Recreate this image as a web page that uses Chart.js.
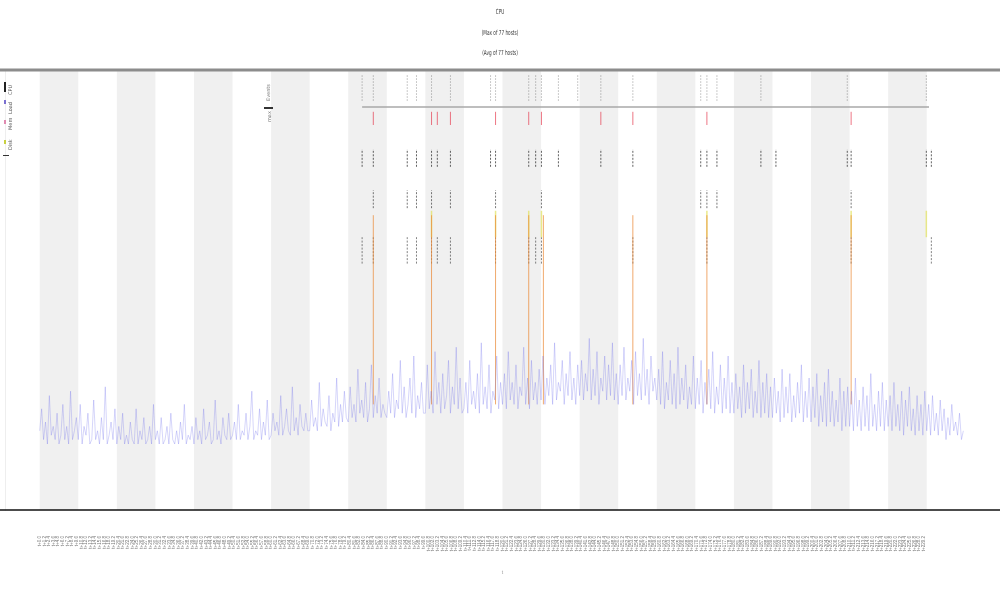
<!DOCTYPE html>
<html>
<head>
<meta charset="utf-8">
<script src="https://cdn.jsdelivr.net/npm/chart.js@4/dist/chart.umd.min.js"></script>
<style>
  body { margin: 0; background: #fff; font-family: "DejaVu Sans", sans-serif; }
  #wrap { position: relative; width: 1000px; height: 600px; }
  .t { position: absolute; color: #333; font-size: 7px; white-space: nowrap; transform: translateX(-50%) scaleX(0.6); }
  .lg { position: absolute; font-size: 5px; color: #555; white-space: nowrap; transform-origin: left top; transform: rotate(-90deg); }
  .sw { position: absolute; }
</style>
</head>
<body>
<div id="wrap">
  <canvas id="chart" width="1000" height="600"></canvas>
  <div class="t" style="left:500px;top:8px;">CPU</div>
  <div class="t" style="left:500px;top:29px;">(Max of 77 hosts)</div>
  <div class="t" style="left:500px;top:49px;">(Avg of 77 hosts)</div>

  <div class="sw" style="left:4px;top:82px;width:2px;height:10px;background:#222;"></div>
  <div class="lg" style="left:7px;top:95px;">CPU</div>
  <div class="sw" style="left:4px;top:100px;width:2px;height:4px;background:#7a6fd0;"></div>
  <div class="lg" style="left:7px;top:114px;">Load</div>
  <div class="sw" style="left:4px;top:120px;width:2px;height:4px;background:#e08ab0;"></div>
  <div class="lg" style="left:7px;top:130px;">Mem</div>
  <div class="sw" style="left:4px;top:140px;width:2px;height:4px;background:#c8d040;"></div>
  <div class="lg" style="left:7px;top:150px;">Disk</div>
  <div class="sw" style="left:3px;top:155px;width:6px;height:1px;background:#333;"></div>

  <div class="lg" style="left:265px;top:101px;color:#777;">Events</div>
  <div class="sw" style="left:264px;top:107px;width:9px;height:2px;background:#333;"></div>
  <div class="lg" style="left:266px;top:122px;color:#777;">max</div>
</div>
<script>
// one sample every half step
const cpuStep = 0.5;
const cpu = [
  18,23,16,20,15,26,17,19,16,22,15,17,24,16,19,15,27,16,18,21,
  16,24,15,19,17,22,15,16,25,16,18,15,21,16,28,15,17,20,16,23,
  15,19,16,22,15,17,15,20,16,15,23,15,18,16,21,15,16,19,15,24,
  16,18,15,21,15,16,19,15,22,16,15,18,15,20,16,24,15,17,16,19,
  15,21,16,18,15,23,16,17,20,15,16,25,16,18,15,21,17,16,22,16,
  17,20,16,24,16,18,17,22,16,19,27,16,18,17,23,16,20,17,25,16,
  17,22,18,20,17,26,17,19,23,18,17,28,18,21,17,24,19,18,22,18,
  18,25,19,21,18,29,19,23,20,19,26,18,22,20,30,19,24,20,27,21,
  20,28,21,24,20,32,22,25,21,29,20,23,33,21,26,22,30,21,24,22,
  21,27,22,31,21,25,23,34,22,28,21,24,30,22,35,21,26,23,29,22,
  22,33,23,27,22,36,24,29,22,31,23,26,34,22,28,24,37,23,30,22,
  23,29,22,34,24,27,23,31,22,38,24,28,23,33,22,27,25,35,23,29,
  24,31,23,36,25,29,24,33,23,28,26,37,24,30,23,34,25,29,24,32,
  25,35,24,30,26,33,24,38,25,29,27,34,24,31,26,36,25,30,24,33,
  26,34,25,31,27,39,25,32,26,36,24,30,27,35,25,33,26,38,25,31,
  24,33,26,37,25,30,27,34,24,36,26,31,25,39,26,32,24,35,27,30,
  25,32,24,36,23,29,25,34,24,31,23,37,24,30,25,33,23,28,24,35,
  23,30,24,34,22,29,24,32,23,36,22,28,24,33,22,30,23,35,22,29,
  22,31,23,28,21,33,22,29,23,32,21,27,22,34,21,29,22,31,21,28,
  21,30,22,27,20,32,21,28,22,31,20,26,21,29,22,33,20,27,21,30,
  20,28,21,31,19,26,20,29,19,32,20,27,19,25,20,30,18,27,19,28,
  19,27,18,30,19,25,18,28,19,26,18,31,19,24,18,27,19,29,18,25,
  19,26,18,29,19,24,18,27,17,25,19,28,18,23,17,26,18,24,17,27,
  18,24,17,26,18,22,17,25,18,23,16,21,17,24,18,20,17,22,16,18
];

// shaded day bands (start index, each 10 wide)
const bandStarts = [0, 20, 40, 60, 80, 100, 120, 140, 160, 180, 200, 220];
const bandWidth = 10;

// event positions
const orangeX = [86.5, 101.6, 118.2, 126.8, 130.6, 153.8, 173.0, 210.4];
const yellowX = [101.6, 118.2, 126.8, 130.1, 173.0, 210.4, 229.9];
const redX = [86.5, 101.6, 103.1, 106.5, 118.2, 126.8, 130.1, 145.5, 153.8, 173.0, 210.4];
const rowAX = [83.6, 86.5, 95.3, 97.7, 101.6, 103.1, 106.5, 116.9, 118.2, 126.8, 128.6, 130.1, 134.5, 145.5, 153.8, 171.4, 173.0, 175.6, 187.0, 190.9, 209.4, 210.4, 229.9, 231.2];
const rowBX = [86.5, 95.3, 97.7, 101.6, 106.5, 118.2, 130.1, 171.4, 173.0, 175.6, 210.4];
const rowCX = [83.6, 86.5, 95.3, 97.7, 101.6, 103.1, 106.5, 118.2, 126.8, 128.6, 130.1, 153.8, 173.0, 210.4, 231.2];
const topX = [83.6, 86.5, 95.3, 97.7, 101.6, 106.5, 116.9, 118.2, 126.8, 128.6, 130.1, 134.5, 139.5, 145.5, 153.8, 171.4, 173.0, 175.6, 187.0, 209.4, 229.9];
const maxLine = { from: 83.6, to: 230.6, value: 91.6 };

function segs(xs, lo, hi) {
  const out = [];
  xs.forEach(x => { out.push({ x: x, y: lo }, { x: x, y: hi }, { x: x, y: null }); });
  return out;
}

const bandsPlugin = {
  id: "bands",
  beforeDatasetsDraw(chart) {
    const { ctx, chartArea, scales } = chart;
    ctx.save();
    ctx.fillStyle = "#f0f0f0";
    bandStarts.forEach(s => {
      const x0 = scales.x.getPixelForValue(s);
      const x1 = scales.x.getPixelForValue(s + bandWidth);
      ctx.fillRect(x0, chartArea.top, x1 - x0, chartArea.bottom - chartArea.top);
    });
    ctx.restore();
  },
  afterDraw(chart) {
    const { ctx, chartArea } = chart;
    ctx.save();
    ctx.strokeStyle = "#8c8c8c";
    ctx.lineWidth = 3;
    ctx.beginPath();
    ctx.moveTo(0, chartArea.top);
    ctx.lineTo(chart.width, chartArea.top);
    ctx.stroke();
    ctx.strokeStyle = "#111";
    ctx.lineWidth = 1.5;
    ctx.beginPath();
    ctx.moveTo(0, chartArea.bottom);
    ctx.lineTo(chart.width, chartArea.bottom);
    ctx.stroke();
    ctx.restore();
  }
};

const lineBase = { pointRadius: 0, spanGaps: false, fill: false, tension: 0 };

new Chart(document.getElementById("chart"), {
  type: "line",
  data: {
    datasets: [
      Object.assign({ label: "CPU", data: cpu.map((v, i) => ({ x: i * cpuStep, y: v })), borderColor: "rgba(100,100,235,0.45)", borderWidth: 0.6 }, lineBase),
      Object.assign({ label: "orange", data: segs(orangeX, 24, 67), borderColor: "rgba(235,140,60,0.75)", borderWidth: 1 }, lineBase),
      Object.assign({ label: "yellow", data: segs(yellowX, 62, 68), borderColor: "rgba(225,225,90,0.7)", borderWidth: 1.5 }, lineBase),
      Object.assign({ label: "red", data: segs(redX, 87.5, 90.5), borderColor: "rgba(230,60,80,0.7)", borderWidth: 1 }, lineBase),
      Object.assign({ label: "rowA", data: segs(rowAX, 78, 82), borderColor: "rgba(30,30,30,0.7)", borderWidth: 1, borderDash: [2, 1.5] }, lineBase),
      Object.assign({ label: "rowB", data: segs(rowBX, 68.6, 72.7), borderColor: "rgba(30,30,30,0.6)", borderWidth: 1, borderDash: [2, 1.5] }, lineBase),
      Object.assign({ label: "rowC", data: segs(rowCX, 56, 62), borderColor: "rgba(30,30,30,0.55)", borderWidth: 1, borderDash: [2, 1.5] }, lineBase),
      Object.assign({ label: "top", data: segs(topX, 93, 99), borderColor: "rgba(60,60,60,0.45)", borderWidth: 0.8, borderDash: [1.5, 1.5] }, lineBase),
      Object.assign({ label: "max", data: [{ x: maxLine.from, y: maxLine.value }, { x: maxLine.to, y: maxLine.value }], borderColor: "#a8a8a8", borderWidth: 1.5 }, lineBase)
    ]
  },
  options: {
    responsive: false,
    animation: false,
    layout: { padding: { top: 70, left: 0, right: 0, bottom: 0 } },
    plugins: { legend: { display: false }, tooltip: { enabled: false } },
    scales: {
      x: {
        type: "linear",
        min: -9,
        max: 249,
        grid: { display: false },
        border: { display: false },
        afterFit(scale) { scale.height = 90; },
        afterBuildTicks(scale) {
          const t = [];
          for (let v = 0; v <= 230; v += 1.2) t.push({ value: v });
          scale.ticks = t;
        },
        ticks: {
          autoSkip: false,
          maxRotation: 90,
          minRotation: 90,
          padding: 18,
          color: "#777",
          font: { size: 4.5 },
          callback: v => "t+" + v.toFixed(1)
        },
        title: { display: true, text: "t", color: "#999", font: { size: 5 }, padding: { top: 0, bottom: 24 } }
      },
      y: {
        min: 0,
        max: 100,
        grid: { display: false },
        border: { display: true, color: "#eee" },
        afterFit(scale) { scale.width = 5; },
        ticks: { color: "#bbb", font: { size: 3 }, padding: 0, stepSize: 25 }
      }
    }
  },
  plugins: [bandsPlugin]
});
</script>
</body>
</html>
